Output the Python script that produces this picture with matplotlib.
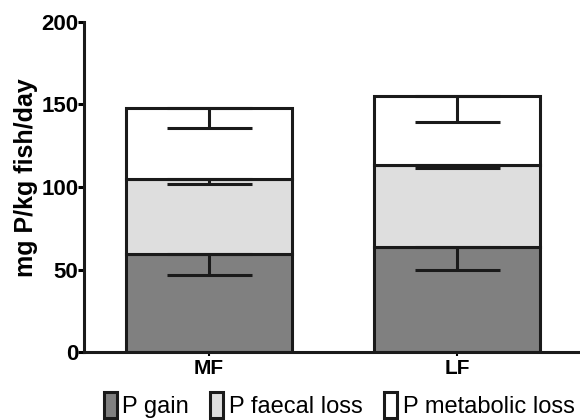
import matplotlib.pyplot as plt

plt.rcParams['font.family'] = ['Liberation Sans', 'DejaVu Sans']

groups = ['MF', 'LF']
p_gain = [59.4, 63.8]
p_faecal = [45.2, 49.3]
p_metabolic = [43.1, 42.1]
err_gain = [12.7, 14.1]
err_faecal = [2.8, 1.8]
err_metabolic = [11.7, 15.6]

labels = ['P gain', 'P faecal loss', 'P metabolic loss']
colors = ['#808080', '#dedede', '#ffffff']

fig = plt.figure(figsize=(5.8, 4.2), dpi=100)
ax = fig.add_axes([84/580, 68/420, 1 - 84/580, 330/420])

x = [0, 1]
bottom = [0, 0]
series = [p_gain, p_faecal, p_metabolic]
errs = [err_gain, err_faecal, err_metabolic]
for vals, e, c, lab in zip(series, errs, colors, labels):
    ax.bar(x, vals, width=0.67, bottom=bottom, color=c, edgecolor='#1a1a1a',
           linewidth=2.2, label=lab, zorder=2)
    tops = [b + v for b, v in zip(bottom, vals)]
    ax.errorbar(x, tops, yerr=[e, [0, 0]], fmt='none', ecolor='#1a1a1a',
                elinewidth=2.2, capsize=30.6, capthick=2.2, zorder=3)
    bottom = tops

ax.set_xlim(-0.504, 1.496)
ax.set_ylim(0, 200)
ax.set_yticks([0, 50, 100, 150, 200])
ax.set_xticks(x)
ax.set_xticklabels(groups, fontweight='bold', fontsize=15)
for t in ax.get_yticklabels():
    t.set_fontweight('bold')
    t.set_fontsize(16)
ax.set_ylabel('mg P/kg fish/day', fontweight='bold', fontsize=18)
ax.yaxis.set_label_coords(-0.092, 0.527)
ax.spines['top'].set_visible(False)
ax.spines['right'].set_visible(False)
for s in ['left', 'bottom']:
    ax.spines[s].set_linewidth(2.2)
    ax.spines[s].set_color('#1a1a1a')
ax.tick_params(axis='y', width=2.2, length=4, pad=0)
ax.tick_params(axis='x', width=1.5, length=3, pad=2)

fig.legend(loc='lower center', bbox_to_anchor=(0.585, -0.045), ncol=3,
           frameon=False, fontsize=17, handlelength=0.55, handleheight=1.3,
           handletextpad=0.25, columnspacing=0.9)

fig.savefig('out.png', dpi=100)
